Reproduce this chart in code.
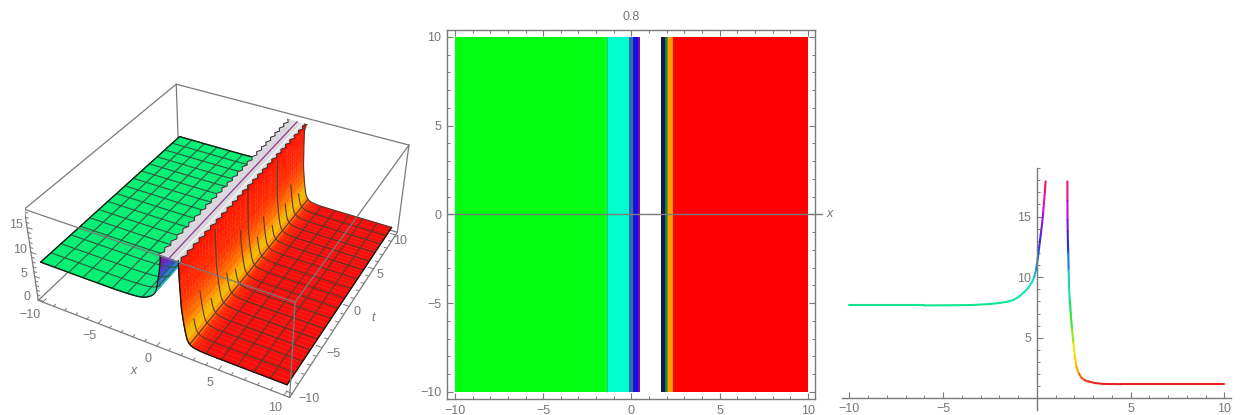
import numpy as np, pandas as pd, matplotlib
matplotlib.use("Agg")
import matplotlib.pyplot as plt, seaborn as sns
from matplotlib.colors import LinearSegmentedColormap, ListedColormap, Normalize
from matplotlib.ticker import MultipleLocator
from mpl_toolkits.mplot3d import proj3d

sns.set_style("white")
plt.rcParams['font.family'] = ['Liberation Sans', 'DejaVu Sans']
W, H = 1240, 415
GREY = "#7a7a7a"
TXT = "#777777"
FS = 9

# cross-section of the wave
left_x = [-10, -6, -3.5, -2.6, -2.0, -1.6, -1.26, -1.0, -0.73, -0.5, -0.28, -0.15, -0.05, 0.04, 0.12, 0.2, 0.28, 0.33, 0.37, 0.42, 0.46]
left_z = [7.67, 7.67, 7.70, 7.78, 7.87, 7.97, 8.12, 8.35, 8.7, 9.05, 9.55, 10.0, 10.6, 11.5, 12.5, 13.5, 14.5, 15.3, 16.1, 17.0, 17.9]
right_x = [1.62, 1.625, 1.63, 1.64, 1.65, 1.67, 1.69, 1.71, 1.75, 1.8, 1.87, 1.94, 2.02, 2.11, 2.24, 2.38, 2.55, 2.74, 3.1, 3.53, 4.5, 7, 10]
right_z = [17.9, 16.3, 14.7, 13.8, 12.9, 12.0, 10.6, 9.2, 8.1, 7.05, 5.7, 4.6, 3.5, 2.6, 2.05, 1.7, 1.5, 1.4, 1.27, 1.2, 1.18, 1.18, 1.18]
# height reached by each mesh line on the wall face (the coarse sampling cuts them off)
wall_line_top = [18, 5, 9, 5, 17, 7, 5, 11, 18, 6, 9, 5, 17, 7, 9, 5, 18]

hue_z = [1.2, 2.2, 3.7, 7.0, 9.5, 12.5, 15.0, 16.3, 18.0]
hue_c = ["#ee1c25", "#ff9a00", "#ffee00", "#10e040", "#20e0d0", "#2030e0", "#a010e0", "#f010c0", "#f01050"]
left_hue_c = ["#10e878", "#10e878", "#10e878", "#10e878", "#20e0d0", "#2030e0", "#a010e0", "#f010c0", "#f01050"]
surf_left_z = [7.6, 8.4, 9.6, 11, 12.5, 15, 18]
surf_left_c = ["#00f070", "#10e890", "#30d0c0", "#3090e0", "#3050e0", "#7020c0", "#a000a0"]
surf_right_z = [1.2, 1.6, 2.2, 3.0, 4.0, 5.0, 7.0, 9.0, 12.0, 18.0]
surf_right_c = ["#f80c0c", "#ff3000", "#ff8000", "#ffb000", "#e8c800", "#ffa000", "#ff7000", "#ff4a00", "#ff2a00", "#ff1400"]

band_edges = [-10, -1.38, -0.14, 0.1, 0.36, 0.51, 1.67, 1.89, 2.0, 2.05, 2.36, 10]
band_colors = ["#00ff10", "#00ffd0", "#2a70c0", "#1010e0", "#9000c0", "#ffffff", "#141a50", "#208040", "#70a000", "#ffa000", "#ff0000"]

ticks_main = [-10, -5, 0, 5, 10]
ticks_z = [0, 5, 10, 15]
t_label_dx = [17, 11, 8, 6, 4]
mesh_lines = [-10 + 1.25 * i for i in range(17)]
teeth = [0.0, 0.22]
cap_rows = 51

fig = plt.figure(figsize=(W / 100, H / 100), dpi=100)
fig.patch.set_facecolor("white")

def px_axes(l, t, r, b, **k):
    return fig.add_axes([l / W, 1 - b / H, (r - l) / W, (b - t) / H], **k)

def ramp(zs, cs):
    lo, hi = zs[0], zs[-1]
    return LinearSegmentedColormap.from_list("r", [((z - lo) / (hi - lo), c) for z, c in zip(zs, cs)], N=512), Normalize(lo, hi)

# ---- panel 1 (3D)
s3, tx3, ty3 = 2112.39, 226.02, 221.71
e, az, foc, cc = 36.32, -61.78, 0.452, 0.404
B, c0, c1, dd = 10.41, -0.22, 18.52, 0.203
left3, right3 = tx3 - 0.095 * s3, tx3 + 0.09 * s3
top3, bot3 = ty3 - 0.09 * s3, ty3 + 0.095 * s3
ax = px_axes(left3, top3, right3, bot3, projection="3d", computed_zorder=False)
ax.patch.set_visible(False)
ax.set_xlim(-B, B); ax.set_ylim(-B, B); ax.set_zlim(c0, c1)
ax.view_init(elev=e, azim=az)
ax.set_proj_type('persp', focal_length=foc)
ax.set_box_aspect((1, 1, cc))
ax.set_axis_off()

def seg(p, q, z=1, c=GREY, lw=0.9):
    ax.plot([p[0], q[0]], [p[1], q[1]], [p[2], q[2]], color=c, lw=lw, zorder=z, solid_capstyle="round")

a0, a1 = -B, B; b0, b1 = -B, B
seg((a0, b1, c0), (a0, b1, c1), 1); seg((a0, b0, c0), (a0, b1, c0), 1); seg((a0, b1, c0), (a1, b1, c0), 1)
seg((a0, b0, c1), (a0, b1, c1), 1); seg((a0, b1, c1), (a1, b1, c1), 1)

t_rows = np.linspace(-10, 10, cap_rows)
tooth = np.array([teeth[i % 2] for i in range(cap_rows)])

Lx = np.array(left_x); Lz = np.array(left_z)
Lmesh = Lz < 9.2
cap_l = Lx[-1] - 0.15 + tooth
X = np.tile(Lx, (cap_rows, 1)); Z = np.tile(Lz, (cap_rows, 1)); T = np.tile(t_rows[:, None], (1, len(Lx)))
X[:, -1] = cap_l
cm, nm = ramp(surf_left_z, surf_left_c)
ax.plot_surface(X, T, Z, facecolors=cm(nm(Z)), rstride=1, cstride=1, shade=False, linewidth=0.25, antialiased=True, zorder=2)
MC = "#2f5a40"
for t in mesh_lines:
    ax.plot(Lx[Lmesh], np.full(Lmesh.sum(), t), Lz[Lmesh], color=MC, lw=0.8, zorder=3)
for x in mesh_lines:
    if x < left_x[-1]:
        z = np.interp(x, Lx, Lz)
        ax.plot([x, x], [-10, 10], [z, z], color=MC, lw=0.8, zorder=3)
ax.plot(Lx, np.full(Lx.size, -10.0), Lz, color="#102010", lw=0.9, zorder=3)
ax.plot(np.full(2, -10.0), [-10, 10], [left_z[0]] * 2, color="#102010", lw=0.9, zorder=3)
ax.plot(Lx, np.full(Lx.size, 10.0), Lz, color="#102010", lw=0.9, zorder=3)

Rx = np.minimum(np.array(right_x) + dd, 10); Rz = np.array(right_z)
cap_r = Rx[0] + 0.2 - tooth
Cx = np.column_stack([cap_l, cap_r])
Cz = np.full(Cx.shape, left_z[-1]); Ct = np.column_stack([t_rows, t_rows])
ax.plot_surface(Cx, Ct, Cz, color="#d8d8d8", rstride=1, cstride=1, shade=False, linewidth=0.2, zorder=4)
ax.plot(cap_l, t_rows, Cz[:, 0], color="#333333", lw=0.7, zorder=4.5)
mid = (Lx[-1] + Rx[0]) / 2
ax.plot([mid, mid], [-10, 10], [left_z[-1]] * 2, color="#8a3a90", lw=0.9, zorder=4.5)
ax.plot([mid + 0.45] * 2, [-10, 10], [left_z[-1]] * 2, color="#f6f6f6", lw=1.0, zorder=4.5)

X = np.tile(Rx, (cap_rows, 1)); Z = np.tile(Rz, (cap_rows, 1)); T = np.tile(t_rows[:, None], (1, len(Rx)))
X[:, 0] = cap_r
cm, nm = ramp(surf_right_z, surf_right_c)
ax.plot_surface(X, T, Z, facecolors=cm(nm(Z)), rstride=1, cstride=1, shade=False, linewidth=0.25, antialiased=True, zorder=5)
MC = "#5a3a28"
for t, top in zip(mesh_lines, wall_line_top):
    keep = Rz <= top
    ax.plot(Rx[keep], np.full(keep.sum(), t), Rz[keep], color=MC, lw=0.8, zorder=6)
for x in mesh_lines:
    if x > Rx[0]:
        z = np.interp(x, Rx, Rz)
        ax.plot([x, x], [-10, 10], [z, z], color=MC, lw=0.8, zorder=6)
ax.plot(cap_r, t_rows, Z[:, 0], color="#333333", lw=0.7, zorder=6.5)
ax.plot(Rx, np.full(Rx.size, -10.0), Rz, color="#201010", lw=0.9, zorder=6.5)
ax.plot(np.full(2, 10.0), [-10, 10], [right_z[-1]] * 2, color="#201010", lw=0.9, zorder=6.5)

for p, q_ in [((a0, b0, c0), (a0, b0, c1)), ((a1, b0, c0), (a1, b0, c1)), ((a1, b1, c0), (a1, b1, c1)),
              ((a0, b0, c0), (a1, b0, c0)), ((a1, b0, c0), (a1, b1, c0)),
              ((a0, b0, c1), (a1, b0, c1)), ((a1, b0, c1), (a1, b1, c1))]:
    seg(p, q_, 7)

for v in range(-10, 11):
    L = 0.45 if v % 5 == 0 else 0.25
    seg((v, b0, c0), (v, b0 + L, c0), 7, lw=0.7)
    seg((a1, v, c0), (a1 - L, v, c0), 7, lw=0.7)
for v in range(0, 19):
    L = 0.45 if v % 5 == 0 else 0.25
    seg((a0, b0, v), (a0 + L, b0, v), 7, lw=0.7)

M = ax.get_proj()
def lab(x, t, z, s, dx, dy):
    X2, Y2, _ = proj3d.proj_transform(x, t, z, M)
    ax.annotate(s, xy=(X2, Y2), xycoords="data", xytext=(dx * 0.72, -dy * 0.72), textcoords="offset points",
                ha="center", va="center", fontsize=FS, color=TXT, zorder=8, annotation_clip=False)
for v, tdx in zip(ticks_main, t_label_dx):
    lab(v, b0, c0, str(v).replace("-", "\u2212"), -9 if v > -10 else -13, 13)
    lab(a1, v, c0, str(v).replace("-", "\u2212"), tdx, 6)
for v in ticks_z:
    lab(a0, b0, v, str(v), -11, -2)
fig.text(134 / W, 1 - 371 / H, "x", fontsize=FS, color=TXT, style="italic", ha="center", va="center")
fig.text(373 / W, 1 - 318 / H, "t", fontsize=FS, color=TXT, style="italic", ha="center", va="center")

# ---- panel 2
ax2 = px_axes(447, 30, 815, 399)
ax2.set_xlim(-10.45, 10.4); ax2.set_ylim(-10.4, 10.39)
ax2.pcolormesh(band_edges, [-10, 10], np.arange(len(band_colors))[None, :], cmap=ListedColormap(band_colors),
               vmin=-0.5, vmax=len(band_colors) - 0.5, shading="flat")
ax2.vlines(band_edges[1:5], -10, 10, color="#444444", lw=0.5, alpha=0.5)
ax2.plot([-10.45, 10.8], [0, 0], color=GREY, lw=1.0, clip_on=False)
for sp in ax2.spines.values():
    sp.set_visible(True); sp.set_color(GREY); sp.set_linewidth(1.0)
ax2.set_xticks(ticks_main); ax2.set_yticks(ticks_main)
ax2.set_xticklabels([str(v).replace("-", "\u2212") for v in ticks_main])
ax2.set_yticklabels([str(v).replace("-", "\u2212") for v in ticks_main])
ax2.xaxis.set_minor_locator(MultipleLocator(1)); ax2.yaxis.set_minor_locator(MultipleLocator(1))
ax2.tick_params(which="major", direction="in", length=4, width=0.8, color=GREY, labelcolor=TXT, labelsize=FS, top=True, right=True, bottom=True, left=True, pad=4)
ax2.tick_params(which="minor", direction="in", length=2.2, width=0.7, color=GREY, top=True, right=True, bottom=True, left=True)
ax2.text(0, 11.15, "0.8", fontsize=FS, color=TXT, ha="center", va="center")
ax2.text(11.25, 0, "x", fontsize=FS, color=TXT, style="italic", ha="center", va="center")

# ---- panel 3
ax3 = px_axes(842, 168, 1231, 410)
cmL, nL = ramp(hue_z, left_hue_c)
cmR, nR = ramp(hue_z, hue_c)
rows, pal = [], {}
k = 0
for xa, za, cm_, nm_ in [(left_x, left_z, cmL, nL), (right_x, right_z, cmR, nR)]:
    for i in range(len(xa) - 1):
        rows += [(xa[i], za[i], k), (xa[i + 1], za[i + 1], k)]
        pal[k] = cm_(nm_((za[i] + za[i + 1]) / 2))
        k += 1
df = pd.DataFrame(rows, columns=["x", "u", "seg"])
sns.lineplot(data=df, x="x", y="u", hue="seg", palette=pal, estimator=None, sort=False, legend=False, lw=1.5, ax=ax3)
ax3.set_xlim(-10.4, 10.35); ax3.set_ylim(-0.95, 19)
ax3.set_xlabel(""); ax3.set_ylabel("")
ax3.patch.set_visible(False)
sns.despine(ax=ax3)
ax3.spines["left"].set_position(("data", 0)); ax3.spines["bottom"].set_position(("data", 0))
for n in ("left", "bottom"):
    ax3.spines[n].set_visible(True); ax3.spines[n].set_color(GREY); ax3.spines[n].set_linewidth(1.0)
ax3.set_xticks([-10, -5, 5, 10]); ax3.set_yticks([5, 10, 15])
ax3.set_xticklabels(["\u221210", "\u22125", "5", "10"]); ax3.set_yticklabels(["5", "10", "15"])
ax3.xaxis.set_minor_locator(MultipleLocator(1)); ax3.yaxis.set_minor_locator(MultipleLocator(1))
ax3.tick_params(which="major", direction="in", length=4, width=0.8, color=GREY, labelcolor=TXT, labelsize=FS, bottom=True, left=True)
ax3.tick_params(which="minor", direction="in", length=2.2, width=0.7, color=GREY, bottom=True, left=True)
ax3.tick_params(axis="x", which="major", pad=3)
ax3.tick_params(axis="y", which="major", pad=4)

fig.savefig("out.png", dpi=100)
